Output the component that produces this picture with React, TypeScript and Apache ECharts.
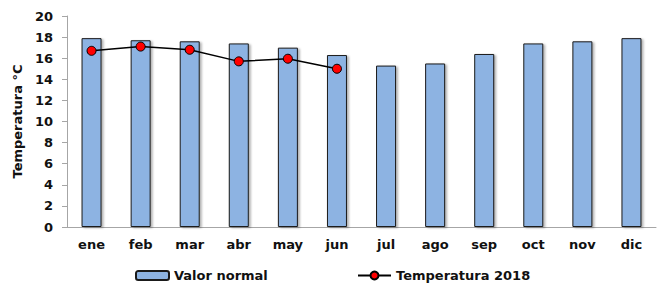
import React, { useEffect, useRef } from "react";
import * as echarts from "echarts";

const categories = ["ene", "feb", "mar", "abr", "may", "jun", "jul", "ago", "sep", "oct", "nov", "dic"];
const valorNormal = [17.9, 17.7, 17.6, 17.4, 17.0, 16.3, 15.3, 15.5, 16.4, 17.4, 17.6, 17.9];
const temperatura2018 = [16.7, 17.1, 16.8, 15.7, 15.95, 15.0, null, null, null, null, null, null];
const yTicks = { min: 0, max: 20, interval: 2 };

const FONT = "DejaVu Sans";

export default function App() {
  const ref = useRef<HTMLDivElement>(null);
  useEffect(() => {
    if (!ref.current) return;
    const chart = echarts.init(ref.current, undefined, { renderer: "svg" });
    chart.setOption({
      animation: false,
      backgroundColor: "#ffffff",
      grid: { left: 67, right: 2, top: 16, bottom: 59, containLabel: false },
      legend: [
        {
          data: ["Valor normal"],
          left: 135,
          top: 269,
          padding: 0,
          itemWidth: 33,
          itemHeight: 9,
          itemGap: 4,
          textStyle: { fontFamily: FONT, fontWeight: "bold", fontSize: 13, color: "#111" },
        },
        {
          data: ["Temperatura 2018"],
          left: 357,
          top: 269,
          padding: 0,
          itemWidth: 33,
          itemHeight: 10,
          textStyle: { fontFamily: FONT, fontWeight: "bold", fontSize: 13, color: "#111" },
        },
      ],
      xAxis: {
        type: "category",
        data: categories,
        axisLine: { lineStyle: { color: "#a6a6a6", width: 1 } },
        axisTick: { show: false },
        axisLabel: { fontFamily: FONT, fontWeight: "bold", fontSize: 13, color: "#111", margin: 11 },
      },
      yAxis: {
        type: "value",
        min: yTicks.min,
        max: yTicks.max,
        interval: yTicks.interval,
        name: "Temperatura °C",
        nameLocation: "middle",
        nameGap: 43,
        nameTextStyle: { fontFamily: FONT, fontWeight: "bold", fontSize: 13, color: "#111" },
        axisLine: { show: true, lineStyle: { color: "#a6a6a6", width: 1 } },
        axisTick: { show: true, length: 5, lineStyle: { color: "#a6a6a6" } },
        splitLine: { show: false },
        axisLabel: { fontFamily: FONT, fontWeight: "bold", fontSize: 13, color: "#111", margin: 14 },
      },
      series: [
        {
          name: "Valor normal",
          type: "bar",
          data: valorNormal,
          barWidth: 20,
          itemStyle: {
            color: "#8db3e2",
            borderColor: "#1a1a1a",
            borderWidth: 1,
            shadowColor: "rgba(0,0,0,0.3)",
            shadowOffsetX: 2,
            shadowOffsetY: 1,
            shadowBlur: 2,
          },
        },
        {
          name: "Temperatura 2018",
          type: "line",
          data: temperatura2018,
          symbol: "circle",
          symbolSize: 9,
          lineStyle: { color: "#000", width: 1.5 },
          itemStyle: { color: "#ff0000", borderColor: "#000", borderWidth: 1 },
          z: 5,
        },
      ],
    });
    return () => chart.dispose();
  }, []);
  return <div ref={ref} style={{ width: 658, height: 286, position: "absolute", left: 0, top: 0 }} />;
}
